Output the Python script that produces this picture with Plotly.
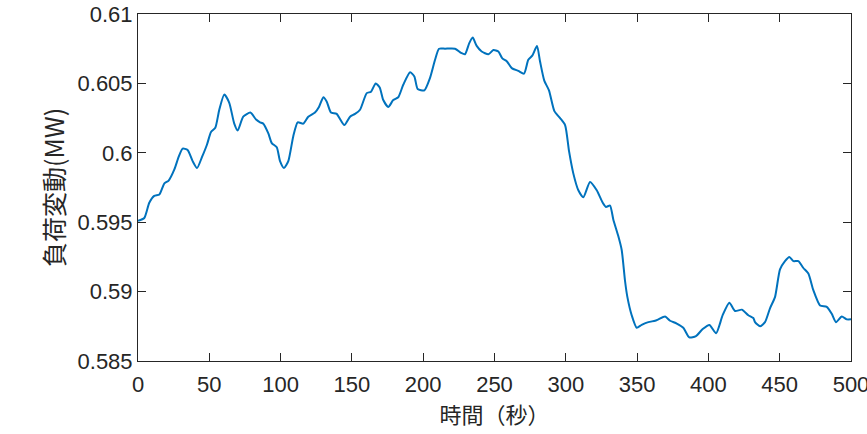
import plotly.graph_objects as go

time_s = [0, 4.4, 7.9, 11.4, 15.0, 18.5, 21.5, 25.5, 28.5, 31.3, 34.8, 38.3, 41.4, 44.9, 48.4,
          51.2, 54.2, 57.0, 60.5, 64.0, 67.5, 69.9, 73.8, 78.8, 82.8, 85.6, 87.9, 91.4, 93.8,
          97.3, 99.6, 102.4, 105.4, 108.9, 112.0, 115.9, 119.4, 124.1, 126.9, 130.0, 132.3,
          135.3, 139.3, 144.7, 148.7, 152.2, 155.7, 160.4, 163.4, 166.7, 169.5, 172.0, 175.5,
          179.0, 182.5, 186.0, 190.8, 193.8, 196.1, 200.8, 204.8, 208.3, 211.1, 215.3, 222.3,
          226.5, 229.3, 232.3, 234.7, 237.5, 241.0, 245.7, 249.2, 252.7, 255.5, 258.6, 262.1,
          266.7, 270.7, 273.7, 276.5, 279.8, 281.9, 284.9, 288.2, 292.0, 296.0, 299.5, 302.3,
          305.3, 308.8, 312.3, 317.0, 321.7, 325.9, 328.2, 331.0, 333.3, 336.8, 339.2, 341.5,
          343.2, 346.2, 349.7, 353.2, 357.9, 362.6, 364.9, 369.6, 373.1, 377.8, 382.4, 386.6,
          391.3, 396.0, 400.7, 405.4, 410.0, 414.7, 418.7, 423.4, 428.0, 431.5, 432.7, 436.2,
          439.7, 443.2, 446.7, 450.2, 453.7, 456.8, 459.6, 463.1, 466.6, 470.1, 473.6, 478.3,
          483.0, 486.5, 489.5, 493.5, 497.0, 500.0]

load_mw = [0.5951, 0.5953, 0.5964, 0.5969, 0.5970, 0.5978, 0.5980, 0.5988, 0.5997, 0.6003,
           0.6002, 0.5994, 0.5989, 0.5997, 0.6006, 0.6015, 0.6018, 0.6031, 0.6042, 0.6036,
           0.6021, 0.6016, 0.6026, 0.6029, 0.6024, 0.6022, 0.6021, 0.6014, 0.6007, 0.6004,
           0.5994, 0.5989, 0.5994, 0.6012, 0.6022, 0.6021, 0.6026, 0.6029, 0.6033, 0.6040,
           0.6037, 0.6029, 0.6028, 0.6020, 0.6026, 0.6028, 0.6031, 0.6043, 0.6044, 0.6050,
           0.6047, 0.6038, 0.6033, 0.6038, 0.6040, 0.6049, 0.6058, 0.6055, 0.6046, 0.6045,
           0.6054, 0.6067, 0.6075, 0.6075, 0.6075, 0.6072, 0.6071, 0.6079, 0.6083, 0.6077,
           0.6073, 0.6071, 0.6074, 0.6073, 0.6068, 0.6066, 0.6061, 0.6059, 0.6057, 0.6067,
           0.6070, 0.6077, 0.6066, 0.6052, 0.6045, 0.6030, 0.6025, 0.6020, 0.6001, 0.5985,
           0.5973, 0.5968, 0.5979, 0.5973, 0.5964, 0.5961, 0.5962, 0.5952, 0.5940, 0.5930,
           0.5908, 0.5896, 0.5883, 0.5874, 0.5876, 0.5878, 0.5879, 0.5880, 0.5882, 0.5879,
           0.5877, 0.5874, 0.5867, 0.5868, 0.5873, 0.5876, 0.5870, 0.5883, 0.5892, 0.5886,
           0.5887, 0.5883, 0.5881, 0.5878, 0.5875, 0.5878, 0.5888, 0.5896, 0.5916, 0.5922,
           0.5925, 0.5922, 0.5922, 0.5917, 0.5913, 0.5901, 0.5890, 0.5889, 0.5884, 0.5878,
           0.5882, 0.5880, 0.5880]

x_ticks = [0, 50, 100, 150, 200, 250, 300, 350, 400, 450, 500]
y_ticks = [0.585, 0.59, 0.595, 0.6, 0.605, 0.61]
y_tick_text = ["0.585", "0.59", "0.595", "0.6", "0.605", "0.61"]

FONT = "Liberation Sans, Arial, Noto Sans CJK JP, sans-serif"
AX = "#262626"

fig = go.Figure()
fig.add_trace(go.Scatter(x=time_s, y=load_mw, mode="lines",
                         line=dict(color="#0072BD", width=2, shape="spline", smoothing=0.6),
                         showlegend=False, hoverinfo="skip"))

axis_common = dict(showline=True, linecolor=AX, linewidth=1, mirror="ticks",
                   ticks="inside", ticklen=8, tickcolor=AX, tickwidth=1,
                   showgrid=False, zeroline=False, automargin=False,
                   ticklabeloverflow="allow",
                   tickfont=dict(family=FONT, size=22, color=AX))

fig.update_layout(
    width=867, height=434,
    margin=dict(l=138, r=16, t=14, b=73),
    paper_bgcolor="white", plot_bgcolor="white",
    xaxis=dict(range=[0, 500], tickvals=x_ticks, ticklabelstandoff=4,
               title=dict(text="時間（秒）", font=dict(family="Noto Sans CJK JP", size=22, color=AX),
                          standoff=0),
               **axis_common),
    yaxis=dict(range=[0.585, 0.61], tickvals=y_ticks, ticktext=y_tick_text,
               title=dict(text="負荷変動(MW)", font=dict(family="Noto Sans CJK JP", size=25, color=AX),
                          standoff=5),
               **axis_common),
)

fig.write_html("out.html", config={"displayModeBar": False},
               post_script="document.body.style.margin='0';document.body.style.overflow='hidden';")
